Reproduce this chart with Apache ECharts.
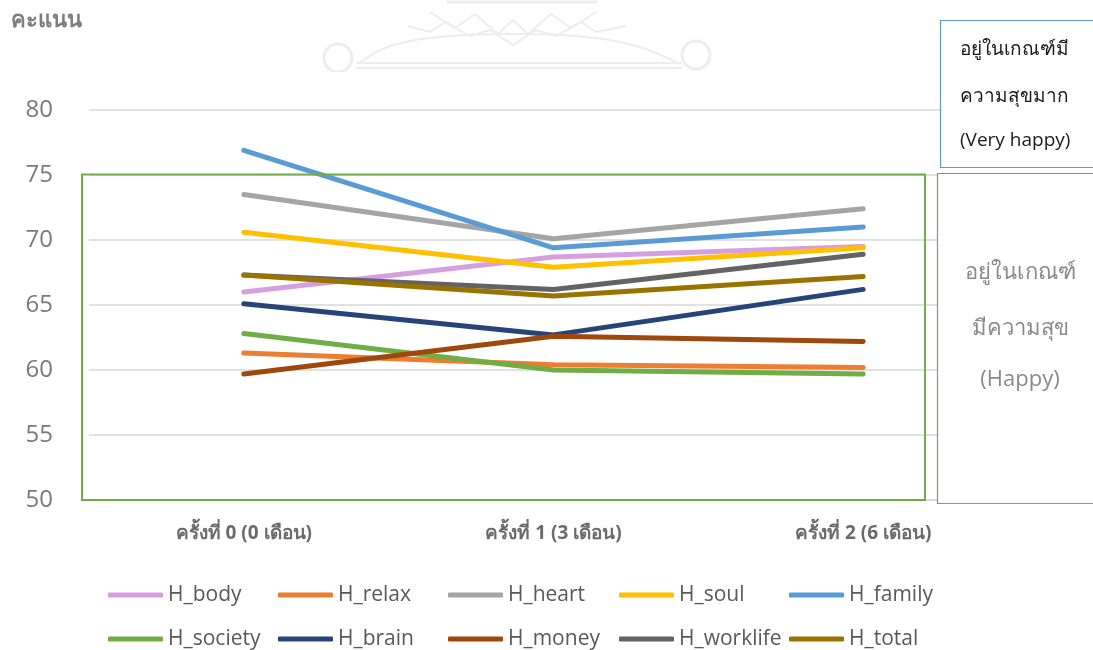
<!DOCTYPE html>
<html>
<head>
<meta charset="utf-8">
<script src="https://cdn.jsdelivr.net/npm/echarts@6/dist/echarts.min.js"></script>
<style>
  html, body { margin: 0; padding: 0; background: #ffffff; }
  #chart { width: 1093px; height: 650px; }
</style>
</head>
<body>
<div id="chart"></div>
<script>
// Rounds of assessment
const categories = ['ครั้งที่ 0 (0 เดือน)', 'ครั้งที่ 1 (3 เดือน)', 'ครั้งที่ 2 (6 เดือน)'];

// Happiness scores per dimension
const H_body     = [66.0, 68.7, 69.5];
const H_relax    = [61.3, 60.4, 60.2];
const H_heart    = [73.5, 70.1, 72.4];
const H_soul     = [70.6, 67.9, 69.4];
const H_family   = [76.9, 69.4, 71.0];
const H_society  = [62.8, 60.0, 59.7];
const H_brain    = [65.1, 62.7, 66.2];
const H_money    = [59.7, 62.6, 62.2];
const H_worklife = [67.3, 66.2, 68.9];
const H_total    = [67.3, 65.7, 67.2];

const seriesNames = ['H_body', 'H_relax', 'H_heart', 'H_soul', 'H_family',
                     'H_society', 'H_brain', 'H_money', 'H_worklife', 'H_total'];
const seriesValues = [H_body, H_relax, H_heart, H_soul, H_family,
                      H_society, H_brain, H_money, H_worklife, H_total];
const seriesColors = ['#d6a0e0', '#ed7d31', '#a5a5a5', '#ffc000', '#5b9bd5',
                      '#70ad47', '#264478', '#9e480e', '#636363', '#997300'];

// Y axis range
const yMin = 50, yMax = 80, yStep = 5;

const chart = echarts.init(document.getElementById('chart'));

const series = seriesNames.map((name, i) => ({
  name: name,
  type: 'line',
  data: seriesValues[i],
  showSymbol: false,
  symbol: 'none',
  smooth: false,
  z: 3 + i,
  lineStyle: { width: 5, color: seriesColors[i], cap: 'round', join: 'round' },
  itemStyle: { color: seriesColors[i] },
  emphasis: { disabled: true }
}));

// Legend: one entry per component, on a 5-column by 2-row grid
const legendCols = [108, 278, 448, 619, 789];
const legendRows = [583, 627];
const legends = seriesNames.map((name, i) => ({
  left: legendCols[i % 5],
  top: legendRows[Math.floor(i / 5)],
  data: [name],
  icon: 'roundRect',
  itemWidth: 55,
  itemHeight: 5,
  itemGap: 0,
  padding: 0,
  selectedMode: false,
  textStyle: { fontFamily: 'Open Sans', fontSize: 21, color: '#595959', lineHeight: 24 }
}));

// Faint emblem watermark at the top
const wm = '#ededed';
const watermark = {
  type: 'group',
  silent: true,
  z: 0,
  children: [
    { type: 'polyline', shape: { points: [[447, 2], [597, 2]] }, style: { stroke: wm, lineWidth: 3, fill: null } },
    { type: 'polyline', shape: { points: [[408, 26], [430, 32], [445, 22], [470, 36], [490, 30], [513, 45], [536, 30], [556, 36], [581, 22], [596, 32], [626, 26]] }, style: { stroke: wm, lineWidth: 2, fill: null } },
    { type: 'polyline', shape: { points: [[430, 12], [455, 28], [475, 14], [498, 34], [513, 20], [528, 34], [551, 14], [571, 28], [596, 12]] }, style: { stroke: wm, lineWidth: 2, fill: null } },
    { type: 'polyline', shape: { points: [[358, 64], [390, 46], [450, 36], [513, 34], [576, 36], [636, 46], [680, 64]], smooth: 0.4 }, style: { stroke: wm, lineWidth: 2, fill: null } },
    { type: 'polyline', shape: { points: [[356, 63], [682, 63]] }, style: { stroke: wm, lineWidth: 2, fill: null } },
    { type: 'polyline', shape: { points: [[356, 68], [682, 68]] }, style: { stroke: wm, lineWidth: 2, fill: null } },
    { type: 'circle', shape: { cx: 338, cy: 58, r: 14 }, style: { stroke: wm, lineWidth: 3, fill: null } },
    { type: 'circle', shape: { cx: 696, cy: 55, r: 14 }, style: { stroke: wm, lineWidth: 3, fill: null } },
    { type: 'rect', shape: { x: 320, y: 72, width: 400, height: 12 }, style: { fill: '#ffffff' } }
  ]
};

const option = {
  backgroundColor: '#ffffff',
  animation: false,
  textStyle: { fontFamily: 'Open Sans' },
  grid: { left: 89, right: 75, top: 110, bottom: 150, containLabel: false },
  xAxis: {
    type: 'category',
    data: categories,
    boundaryGap: true,
    axisLine: { show: true, lineStyle: { color: '#d9d9d9', width: 1.5 } },
    axisTick: { show: false },
    axisLabel: { margin: 24, fontSize: 19, fontWeight: 'bold', color: '#6b6b6b' },
    splitLine: { show: false }
  },
  yAxis: {
    type: 'value',
    min: yMin,
    max: yMax,
    interval: yStep,
    axisLine: { show: false },
    axisTick: { show: false },
    axisLabel: { margin: 36, fontSize: 24, color: '#7a7a7a' },
    splitLine: { show: true, lineStyle: { color: '#d9d9d9', width: 1.5 } }
  },
  legend: legends,
  series: series,
  graphic: [
    watermark,
    { type: 'text', left: 11, top: 10, z: 10, style: { text: 'คะแนน', fontSize: 22, fontWeight: 'bold', fill: '#7f7f7f', fontFamily: 'Open Sans' } },
    // Happy zone outline
    { type: 'rect', z: 20, silent: true, shape: { x: 82, y: 174.5, width: 843, height: 325.5 }, style: { fill: null, stroke: '#70ad47', lineWidth: 2 } },
    // Very happy label box
    { type: 'rect', z: 30, silent: true, shape: { x: 940.5, y: 20.5, width: 160, height: 147 }, style: { fill: '#ffffff', stroke: '#5b9bd5', lineWidth: 1.2 } },
    { type: 'text', z: 31, style: { x: 960, y: 50, text: 'อยู่ในเกณฑ์มี', fontSize: 19, fill: '#1a1a1a', verticalAlign: 'middle', fontFamily: 'Open Sans' } },
    { type: 'text', z: 31, style: { x: 960, y: 97, text: 'ความสุขมาก', fontSize: 19, fill: '#1a1a1a', verticalAlign: 'middle', fontFamily: 'Open Sans' } },
    { type: 'text', z: 31, style: { x: 960, y: 141, text: '(Very happy)', fontSize: 19, fill: '#1a1a1a', verticalAlign: 'middle', fontFamily: 'Open Sans' } },
    // Happy label box
    { type: 'rect', z: 30, silent: true, shape: { x: 937.5, y: 173.5, width: 160, height: 330 }, style: { fill: '#ffffff', stroke: '#70ad47', lineWidth: 1.2 } },
    { type: 'text', z: 31, style: { x: 1020, y: 273, text: 'อยู่ในเกณฑ์', fontSize: 22, fill: '#8a8a8a', align: 'center', verticalAlign: 'middle', fontFamily: 'Open Sans' } },
    { type: 'text', z: 31, style: { x: 1020, y: 329, text: 'มีความสุข', fontSize: 22, fill: '#8a8a8a', align: 'center', verticalAlign: 'middle', fontFamily: 'Open Sans' } },
    { type: 'text', z: 31, style: { x: 1020, y: 380, text: '(Happy)', fontSize: 22, fill: '#8a8a8a', align: 'center', verticalAlign: 'middle', fontFamily: 'Open Sans' } }
  ]
};

chart.setOption(option);
</script>
</body>
</html>
